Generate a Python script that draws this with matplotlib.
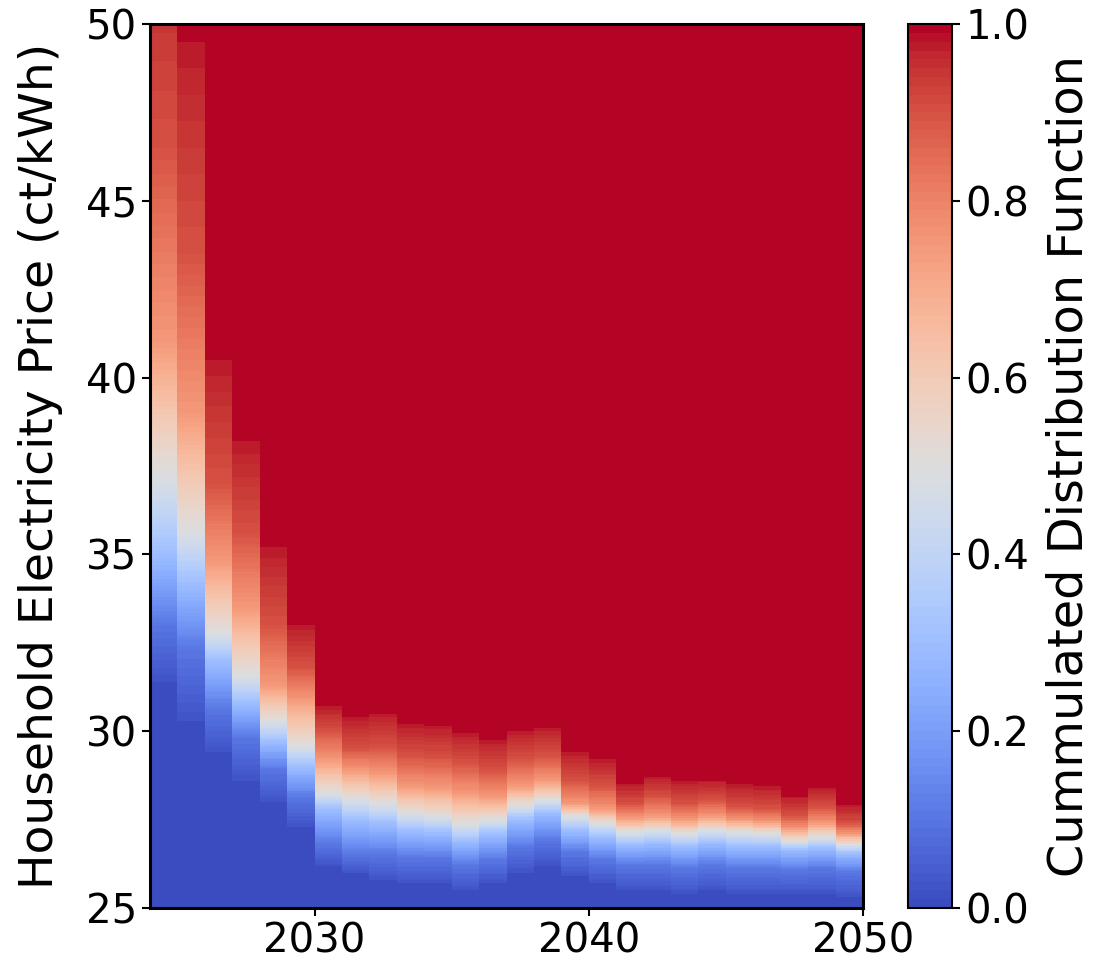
import numpy as np
import matplotlib
matplotlib.use("Agg")
import matplotlib.pyplot as plt

# Years (column left edges) 2024..2049, one column per year
years = np.arange(2024, 2050)

# Price (ct/kWh) at which the cumulative distribution reaches given levels, per year
cdf_levels = [0.02, 0.10, 0.30, 0.50, 0.75, 0.90, 0.98]
p02 = [31.4, 30.3, 29.4, 28.6, 28.0, 27.3, 26.2, 26.0, 25.8, 25.7, 25.7, 25.5, 25.7,
       26.0, 26.2, 25.9, 25.7, 25.5, 25.5, 25.4, 25.5, 25.4, 25.4, 25.4, 25.4, 25.3]
p10 = [33.0, 32.3, 30.6, 29.8, 28.9, 28.1, 26.8, 26.5, 26.5, 26.4, 26.4, 26.2, 26.35,
       26.7, 26.9, 26.55, 26.35, 26.2, 26.2, 26.1, 26.2, 26.1, 26.1, 26.05, 26.1, 26.0]
p30 = [35.0, 34.2, 32.0, 30.8, 29.7, 29.0, 27.8, 27.5, 27.4, 27.2, 27.15, 26.9, 27.1,
       27.5, 27.7, 27.2, 27.0, 26.8, 26.85, 26.75, 26.85, 26.75, 26.75, 26.65, 26.7, 26.55]
p50 = [37.3, 35.7, 32.8, 31.6, 30.3, 29.6, 28.25, 28.1, 27.96, 27.7, 27.6, 27.4, 27.5,
       27.9, 28.05, 27.6, 27.4, 27.15, 27.2, 27.1, 27.2, 27.15, 27.1, 26.9, 27.0, 26.8]
p75 = [41.0, 39.0, 34.8, 33.5, 31.3, 30.9, 29.2, 28.9, 28.8, 28.45, 28.4, 28.25, 28.15,
       28.45, 28.6, 27.95, 27.8, 27.55, 27.6, 27.5, 27.6, 27.5, 27.45, 27.25, 27.4, 27.1]
p90 = [46.5, 43.5, 37.0, 35.6, 33.0, 31.8, 30.0, 29.5, 29.55, 29.3, 29.25, 29.1, 28.9,
       29.2, 29.3, 28.6, 28.45, 27.95, 28.15, 27.95, 28.05, 27.85, 27.8, 27.6, 27.85, 27.4]
p98 = [53.0, 49.5, 40.5, 38.2, 35.2, 33.0, 30.7, 30.4, 30.5, 30.2, 30.15, 29.95, 29.75,
       30.0, 30.1, 29.4, 29.2, 28.5, 28.7, 28.6, 28.6, 28.5, 28.45, 28.15, 28.4, 27.9]

xticks = [2030, 2040, 2050]
yticks = [25, 30, 35, 40, 45, 50]
cticks = [0.0, 0.2, 0.4, 0.6, 0.8, 1.0]

quantiles = np.array([p02, p10, p30, p50, p75, p90, p98])  # shape (levels, years)

price_edges = np.arange(25.0, 50.0 + 0.001, 0.05)
price_centers = 0.5 * (price_edges[:-1] + price_edges[1:])
year_edges = np.append(years, years[-1] + 1)

Z = np.empty((len(price_centers), len(years)))
for j in range(len(years)):
    Z[:, j] = np.interp(price_centers, quantiles[:, j], cdf_levels, left=0.0, right=1.0)

plt.rcParams['font.family'] = ['DejaVu Sans']
fig = plt.figure(figsize=(11.11, 9.66), dpi=100)
ax = fig.add_axes([150 / 1111, 1 - 908 / 966, (863 - 150) / 1111, (908 - 24) / 966])
cax = fig.add_axes([908 / 1111, 1 - 908 / 966, (952 - 908) / 1111, (908 - 24) / 966])

cmap = plt.get_cmap('coolwarm', 100)
mesh = ax.pcolormesh(year_edges, price_edges, Z, cmap=cmap, vmin=0, vmax=1,
                     shading='flat', rasterized=True)
ax.set_xlim(2024, 2050)
ax.set_ylim(25, 50)
ax.set_xticks(xticks)
ax.set_yticks(yticks)
ax.tick_params(labelsize=29, length=6, width=1.5)
ax.set_ylabel('Household Electricity Price (ct/kWh)', fontsize=34)
ax.yaxis.set_label_coords((63 - 150) / 713, 0.5)
for s in ax.spines.values():
    s.set_linewidth(2.2)

cb = fig.colorbar(mesh, cax=cax, ticks=cticks)
cb.ax.tick_params(labelsize=29, length=6, width=1.5)
cb.set_label('Cummulated Distribution Function', fontsize=34.5)
cb.ax.yaxis.set_label_coords((1045 - 908) / 44, 0.5)
cb.outline.set_linewidth(1.5)

fig.savefig('out.png', dpi=100)
